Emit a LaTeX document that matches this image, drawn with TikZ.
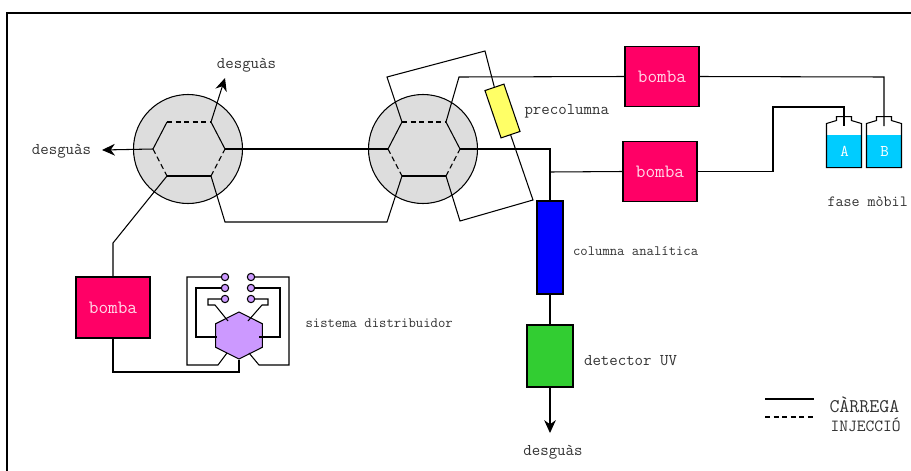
\documentclass[tikz,border=0pt]{standalone}
\usepackage{tikz}
\usetikzlibrary{arrows.meta,positioning,calc,shapes.geometric}
\definecolor{pumpred}{RGB}{255,0,102}
\definecolor{valvegray}{RGB}{221,221,221}
\definecolor{precolyellow}{RGB}{255,255,102}
\definecolor{detgreen}{RGB}{50,205,50}
\definecolor{solvcyan}{RGB}{0,204,255}
\definecolor{distpurple}{RGB}{204,153,255}
\definecolor{txtgray}{RGB}{50,50,50}

\begin{document}
\begin{tikzpicture}[
        x=0.03cm, y=-0.03cm,
        line width=0.9pt,
        lblsty/.style={
            font=\ttfamily\fontsize{14}{16}\selectfont,
            text=txtgray, inner sep=0pt,
        },
        smallsty/.style={
            font=\ttfamily\fontsize{12.2}{14}\selectfont,
            text=txtgray, inner sep=0pt,
        },
        capsty/.style={
            font=\ttfamily\fontsize{14.5}{16}\selectfont,
            text=txtgray, inner sep=0pt,
        },
        pumpsty/.style={
            draw, rectangle, fill=pumpred, inner sep=0pt,
            font=\ttfamily\fontsize{16}{16}\selectfont, text=white!85!pumpred,
            minimum width=2.22cm,
            minimum height=1.78cm,
        },
        valvesty/.style={
            draw, circle, fill=valvegray, inner sep=0pt,
            minimum size=3.27cm,
        },
        portsty/.style={
            draw, circle, fill=distpurple, inner sep=0pt,
            minimum size=0.22cm,
        },
        solvsty/.style={
            rectangle, fill=solvcyan, inner sep=0pt,
            font=\ttfamily\fontsize{14}{14}\selectfont, text=white,
            minimum width=1.05cm,
            minimum height=0.96cm,
        },
        dashsty/.style={dash pattern=on 4.5pt off 2.8pt},
        arrowsty/.style={-{Stealth[length=11pt,width=10pt]}},
    ]
    \useasboundingbox (0,0) rectangle (911,471);

    % frame
    \coordinate (fa) at (7,471);
    \coordinate (fb) at (7,13);
    \coordinate (fc) at (911,13);
    \draw (fa) -- (fb) -- (fc);

    % valves
    \node[valvesty] at (188,149) (v1) {};
    \node[valvesty] at (423,149) (v2) {};
    \foreach \v in {v1,v2} {
        \coordinate (\v l) at ($(\v)+(-35,0)$);
        \coordinate (\v r) at ($(\v)+(37,0)$);
        \coordinate (\v tl) at ($(\v)+(-21,-27)$);
        \coordinate (\v tr) at ($(\v)+(23,-27)$);
        \coordinate (\v bl) at ($(\v)+(-21,27)$);
        \coordinate (\v br) at ($(\v)+(23,27)$);
        \draw[dashsty] (\v tl) -- (\v tr);
        \draw (\v tl) -- (\v l);
        \draw[dashsty] (\v l) -- (\v bl);
        \draw (\v bl) -- (\v br);
        \draw[dashsty] (\v br) -- (\v r);
        \draw (\v r) -- (\v tr);
    }

    % pumps and columns
    \node[pumpsty] at (662,76.5) (pump1) {bomba};
    \node[pumpsty] at (660,171.5) (pump2) {bomba};
    \node[pumpsty, minimum height=1.83cm] at (113,307.5) (pump3) {bomba};
    \node[draw, rectangle, fill=precolyellow, rotate=18.8, minimum width=0.6cm, minimum height=1.5cm, inner sep=0pt] at (502.5,111) (precol) {};
    \node[draw, rectangle, fill=blue, minimum width=0.78cm, minimum height=2.79cm, inner sep=0pt] at (550,247.5) (col) {};
    \node[draw, rectangle, fill=detgreen, minimum width=1.38cm, minimum height=1.86cm, inner sep=0pt] at (550,356) (det) {};

    % solvents
    \node[solvsty] at (844.5,151) (solvA) {A};
    \node[solvsty] at (884.5,151) (solvB) {B};
    \foreach \b in {solvA,solvB} {
        \draw (\b.south west) -- ++(0,-44) -- ++(10,-3) -- ++(0,-4) -- ++(15,0)
            -- ++(0,4) -- ++(10,3) -- ++(0,44) -- cycle;
    }

    % distributor
    \node[draw, regular polygon, regular polygon sides=6, shape border rotate=30, xscale=1.15, fill=distpurple, minimum size=1.41cm, inner sep=0pt] at (239,335.5) (dist) {};
    \foreach \i/\y in {1/277,2/288,3/299} {
        \node[portsty] at (225,\y) (pl\i) {};
        \node[portsty] at (251,\y) (pr\i) {};
    }
    \draw (pl1) -| (187,365) -- (218,365) -- (227,353);
    \draw (pl2) -| (196,337) -- (217,337);
    \draw (pl3) -| (208,305) -- (215,305) -- (228,321);
    \draw (pr1) -| (289,365) -- (259,365) -- (249,353);
    \draw (pr2) -| (280,337) -- (259,337);
    \draw (pr3) -| (268,305) -- (262,305) -- (248,321);

    % flow lines
    \coordinate (out1) at (225,78);
    \coordinate (out2) at (102,150);
    \coordinate (out3) at (550,433);
    \draw[arrowsty] (v1tr) -- (out1);
    \draw[arrowsty] (v1l) -- (out2);
    \draw[arrowsty] (det.south) -- (out3);
    \draw (v1r) -- (v2l);
    \draw (v1bl) -- (113,243) -- (pump3.north);
    \draw (v1br) -- (225,222) -- (387,222) -- (v2bl);
    \draw (v2tl) -- (387,77) -- (485,51) -- (precol.north);
    \draw (precol.south) -- (533,200) -- (460,221) -- (v2br);
    \draw (v2tr) -- (459,77) -- (pump1.west);
    \draw (v2r) -| (col.north);
    \coordinate (tee) at (550,172);
    \draw (tee) -- (pump2.west);
    \draw (col.south) -- (det.north);
    \draw (pump3.south) -- (113,372) -| (dist.south);
    \draw (pump1.east) -- (884,77) -- (884,126);
    \draw (pump2.east) -| (773,107) -| (844,126);

    % labels
    \node[lblsty] at (246.5,65) (lbl1) {desguàs};
    \node[lblsty] at (61.5,151) (lbl2) {desguàs};
    \node[lblsty] at (553,452) (lbl3) {desguàs};
    \node[lblsty, anchor=west] at (524,111) (lblpre) {precolumna};
    \node[smallsty, right=0.27cm of col, yshift=-0.1cm] (lblcol) {columna analítica};
    \node[lblsty, right=0.3cm of det, yshift=-0.15cm] (lbldet) {detector UV};
    \node[smallsty, anchor=west] at (305,323) (lbldist) {sistema distribuidor};
    \node[lblsty, font=\ttfamily\fontsize{13.3}{16}\selectfont, anchor=west] at (827,202) (lblfase) {fase mòbil};

    % legend
    \coordinate (lga) at (765,399);
    \coordinate (lgb) at (814,399);
    \coordinate (lgc) at (765,417);
    \coordinate (lgd) at (814,417);
    \draw (lga) -- (lgb);
    \draw[dashsty] (lgc) -- (lgd);
    \node[capsty, font=\ttfamily\fontsize{16.5}{18}\selectfont, anchor=west] at (829,405) (lblcar) {CÀRREGA};
    \node[capsty, anchor=west] at (830,425) (lblinj) {INJECCIÓ};
\end{tikzpicture}
\end{document}
